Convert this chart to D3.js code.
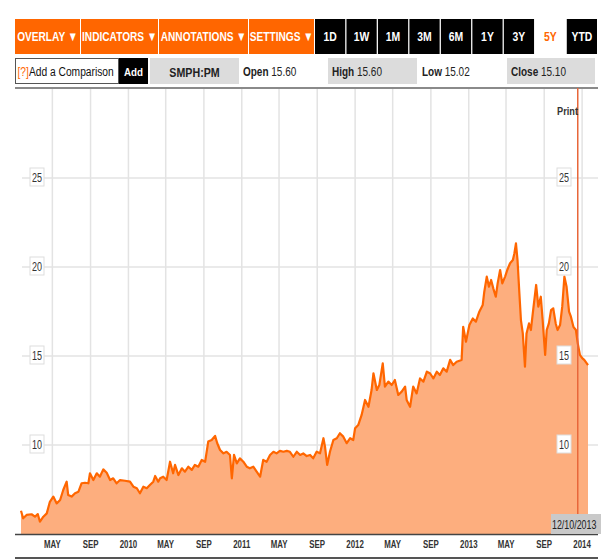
<!DOCTYPE html>
<html><head><meta charset="utf-8">
<script src="https://cdn.jsdelivr.net/npm/d3@7/dist/d3.min.js"></script>
<style>
html,body{margin:0;padding:0;background:#fff;}
svg{display:block;}
text{font-family:'Liberation Sans',Arial,sans-serif;}
</style></head>
<body><svg id="chart" width="601" height="560"></svg>
<script>
// ---------- DATA ----------
const dates = ["2009-01-20","2009-01-27","2009-02-07","2009-02-23","2009-03-06","2009-03-15","2009-03-22","2009-04-02","2009-04-13","2009-04-23",
"2009-05-04","2009-05-15","2009-05-26","2009-06-05","2009-06-16","2009-06-21","2009-07-02","2009-07-13","2009-07-24","2009-08-03",
"2009-08-14","2009-08-25","2009-08-30","2009-09-10","2009-09-21","2009-10-01","2009-10-12","2009-10-23","2009-11-03","2009-11-13",
"2009-11-24","2009-12-05","2009-12-21","2010-01-06","2010-01-17","2010-01-28","2010-02-07","2010-02-18","2010-03-01","2010-03-11",
"2010-03-22","2010-03-28","2010-04-07","2010-04-13","2010-04-23","2010-05-04","2010-05-15","2010-05-25","2010-05-31","2010-06-11",
"2010-06-22","2010-07-02","2010-07-13","2010-07-24","2010-08-03","2010-08-14","2010-08-25","2010-09-05","2010-09-15","2010-09-26",
"2010-10-07","2010-10-14","2010-10-23","2010-11-03","2010-11-13","2010-11-24","2010-11-30","2010-12-07","2010-12-16","2010-12-26",
"2011-01-06","2011-01-17","2011-01-27","2011-02-07","2011-02-18","2011-03-01","2011-03-11","2011-03-22","2011-04-02","2011-04-13",
"2011-04-23","2011-05-04","2011-05-15","2011-05-26","2011-06-05","2011-06-16","2011-06-27","2011-07-08","2011-07-18","2011-07-29",
"2011-08-09","2011-08-19","2011-08-30","2011-09-10","2011-09-21","2011-09-26","2011-10-03","2011-10-12","2011-10-23","2011-11-03",
"2011-11-13","2011-11-24","2011-12-05","2011-12-16","2011-12-26","2012-01-01","2012-01-11","2012-01-22","2012-02-02","2012-02-13",
"2012-02-23","2012-02-29","2012-03-11","2012-03-19","2012-03-30","2012-04-06","2012-04-17","2012-04-28","2012-05-08","2012-05-19",
"2012-05-30","2012-06-10","2012-06-15","2012-06-26","2012-07-06","2012-07-17","2012-07-28","2012-08-08","2012-08-19","2012-08-29",
"2012-09-09","2012-09-20","2012-09-30","2012-10-11","2012-10-22","2012-11-02","2012-11-12","2012-11-23","2012-12-09","2012-12-14",
"2012-12-23","2013-01-03","2013-01-14","2013-01-24","2013-02-04","2013-02-15","2013-02-20","2013-02-28","2013-03-07","2013-03-14",
"2013-03-21","2013-03-29","2013-04-04","2013-04-12","2013-04-19","2013-04-28","2013-05-05","2013-05-14","2013-05-23","2013-05-28",
"2013-06-02","2013-06-07","2013-06-13","2013-06-18","2013-06-24","2013-07-01","2013-07-06","2013-07-14","2013-07-20","2013-07-28",
"2013-08-06","2013-08-13","2013-08-21","2013-08-27","2013-09-04","2013-09-09","2013-09-16","2013-09-23","2013-09-30","2013-10-08",
"2013-10-14","2013-10-22","2013-10-29","2013-11-05","2013-11-12","2013-11-20","2013-11-26","2013-12-04","2013-12-12","2013-12-18",
"2013-12-25","2014-01-02","2014-01-08","2014-01-16","2014-01-20"];
const prices = [6.31,5.88,6.07,6.11,5.97,6.12,5.69,5.97,6.16,6.81,
7.10,6.72,6.91,7.47,7.94,7.19,7.10,7.29,7.38,7.85,
7.88,7.85,8.41,8.03,8.41,8.22,8.63,8.44,8.03,8.13,
7.85,8.03,7.99,7.94,7.66,7.57,7.29,7.66,7.57,7.75,
7.94,8.26,7.94,8.13,8.22,8.03,9.06,8.41,8.88,8.31,
8.69,8.50,8.78,8.60,8.88,8.78,9.16,9.06,10.19,10.28,
10.51,10.10,9.72,9.53,9.62,9.44,8.13,9.44,8.97,9.25,
9.06,8.78,8.69,8.78,8.50,8.22,9.16,9.06,9.44,9.62,
9.53,9.67,9.62,9.67,9.62,9.34,9.62,9.44,9.53,9.38,
9.44,9.25,9.62,9.53,10.38,9.91,8.88,9.62,10.28,10.38,
10.66,10.47,10.10,10.38,10.28,10.94,11.12,11.69,12.53,12.15,
13.09,14.03,13.09,13.37,14.59,13.28,13.56,13.37,13.65,12.81,
13.00,13.28,12.53,12.15,13.28,12.90,13.74,13.56,14.12,14.03,
13.74,14.12,13.93,14.31,14.12,14.78,14.49,14.68,14.78,16.64,
15.80,16.74,17.11,16.93,17.49,17.87,18.61,19.46,18.89,19.27,
18.80,18.33,19.08,19.83,19.08,19.46,19.83,20.21,20.39,20.77,
21.33,20.39,18.52,17.02,16.27,14.40,16.27,16.83,16.46,17.68,
18.99,17.77,18.33,17.02,15.06,16.46,16.83,17.58,17.68,16.83,
16.46,16.74,17.77,19.46,18.89,17.49,17.21,16.64,16.46,15.71,
15.06,14.87,14.78,14.59,14.49];
const yTicks = [10, 15, 20, 25];
const menuLabels = ["OVERLAY \u25BC","INDICATORS \u25BC","ANNOTATIONS \u25BC","SETTINGS \u25BC"];
const rangeLabels = ["1D","1W","1M","3M","6M","1Y","3Y","5Y","YTD"];
const activeRange = "5Y";
const symbol = "SMPH:PM";
const quoteLabels = ["Open","High","Low","Close"];
const quoteValues = ["15.60","15.60","15.02","15.10"];
const cursorDate = "2013-12-18";
const cursorLabel = "12/10/2013";
const domainDates = ["2009-01-20","2014-01-20"];

// ---------- LAYOUT ----------
const svg = d3.select("#chart");
const parse = d3.timeParse("%Y-%m-%d");
const data = dates.map((d,i)=>({date:parse(d), v:prices[i]}));
const plot = {left:21, right:588, top:89, bottom:534};
const x = d3.scaleTime().domain(domainDates.map(parse)).range([plot.left, plot.right]);
const y = d3.scaleLinear().domain([5, 30]).range([plot.bottom, plot.top]);

// condensed text helper (emulates a narrow face)
function nt(parent, tx, ty, size, weight, fill, anchor, sx){
  const g = parent.append("g").attr("transform",`translate(${tx},${ty}) scale(${sx},1)`);
  return g.append("text").attr("x",0).attr("y",0).attr("font-size",size).attr("font-weight",weight)
    .attr("fill",fill).attr("text-anchor",anchor);
}

// header menu (orange)
const menuW = [65,77,89,65];
let mx = 15;
menuLabels.forEach((lab,i)=>{
  svg.append("rect").attr("x",mx).attr("y",19).attr("width",menuW[i]).attr("height",35).attr("fill","#ff6600");
  nt(svg, mx+menuW[i]/2, 41, 13, "bold", "#fff", "middle", 0.78).text(lab);
  mx += menuW[i]+1;
});
const rx = d3.scaleBand().domain(rangeLabels).range([315,597]).paddingInner(0.04);
rangeLabels.forEach(lab=>{
  const on = lab===activeRange;
  if(!on) svg.append("rect").attr("x",rx(lab)).attr("y",19).attr("width",rx.bandwidth()).attr("height",35).attr("fill","#000");
  nt(svg, rx(lab)+rx.bandwidth()/2, 41, 13, "bold", on?"#ff6600":"#fff", "middle", 0.8).text(lab);
});

// second row
svg.append("rect").attr("x",15.5).attr("y",58.5).attr("width",103).attr("height",25).attr("fill","#fff").attr("stroke","#555");
const cmp = nt(svg, 17.5, 76, 12.5, "normal", "#111", "start", 0.82);
cmp.append("tspan").attr("fill","#ff6600").text("[?]");
cmp.append("tspan").text("Add a Comparison");
svg.append("rect").attr("x",119).attr("y",58).attr("width",29).attr("height",26).attr("fill","#000");
nt(svg, 133.5, 75.5, 11.5, "bold", "#fff", "middle", 0.85).text("Add");
svg.append("rect").attr("x",150).attr("y",58).attr("width",89).attr("height",26).attr("fill","#dcdcdc");
nt(svg, 194.5, 76.5, 13, "bold", "#222", "middle", 0.82).text(symbol);
const qPos = [{x:243,box:null},{x:332,box:[328,89]},{x:422,box:null},{x:511,box:[507,88]}];
quoteLabels.forEach((lab,i)=>{
  const p = qPos[i];
  if(p.box) svg.append("rect").attr("x",p.box[0]).attr("y",58).attr("width",p.box[1]).attr("height",26).attr("fill","#dcdcdc");
  const t = nt(svg, p.x, 76, 12.5, "normal", "#222", "start", 0.8);
  t.append("tspan").attr("font-weight","bold").text(lab+" ");
  t.append("tspan").text(quoteValues[i]);
});

// gridlines
const xTicks = x.ticks(d3.timeMonth.every(4));
svg.append("g").selectAll("line").data(xTicks).join("line")
  .attr("x1",d=>x(d)).attr("x2",d=>x(d)).attr("y1",plot.top).attr("y2",plot.bottom)
  .attr("stroke","#e3e3e3").attr("stroke-width",1.5);
svg.append("g").selectAll("line").data(yTicks).join("line")
  .attr("x1",22).attr("x2",598).attr("y1",d=>y(d)).attr("y2",d=>y(d))
  .attr("stroke","#e3e3e3").attr("stroke-width",1.5);

// area + line
const area = d3.area().x(d=>x(d.date)).y0(y(5)).y1(d=>y(d.v));
const line = d3.line().x(d=>x(d.date)).y(d=>y(d.v));
svg.append("path").datum(data).attr("d",area).attr("fill","#fdae7e");
svg.append("path").datum(data).attr("d",line).attr("fill","none").attr("stroke","#ff6600").attr("stroke-width",2.2).attr("stroke-linejoin","round");

// y labels both sides
[37,564].forEach(cx=>{
  yTicks.forEach(d=>{
    svg.append("rect").attr("x",cx-7).attr("y",y(d)-10).attr("width",14).attr("height",18).attr("fill","#fff").attr("stroke","#ddd");
    nt(svg, cx, y(d)+4, 12, "normal", "#333", "middle", 0.75).text(d);
  });
});

// frame lines
svg.append("line").attr("x1",15).attr("x2",598).attr("y1",88).attr("y2",88).attr("stroke","#8a8a8a").attr("stroke-width",2);
svg.append("line").attr("x1",15).attr("x2",598).attr("y1",534.5).attr("y2",534.5).attr("stroke","#444").attr("stroke-width",1.5);
svg.append("line").attr("x1",15).attr("x2",598).attr("y1",558).attr("y2",558).attr("stroke","#555").attr("stroke-width",2);

// x axis labels
const fmt = d=> d.getMonth()===0 ? d3.timeFormat("%Y")(d) : d3.timeFormat("%b")(d).toUpperCase();
xTicks.forEach(d=>{
  nt(svg, x(d), 548, 10.5, "bold", "#333", "middle", 0.75).text(fmt(d));
});

// cursor line
const cxl = x(parse(cursorDate));
svg.append("line").attr("x1",cxl).attr("x2",cxl).attr("y1",88).attr("y2",534).attr("stroke","#e8673a").attr("stroke-width",1.5);
svg.append("rect").attr("x",551).attr("y",514).attr("width",52).attr("height",20).attr("fill","#c9c9c9");
nt(svg, 552, 528.5, 12, "normal", "#222", "start", 0.74).text(cursorLabel);

// print
nt(svg, 557, 115, 11.5, "bold", "#333", "start", 0.8).text("Print");
</script></body></html>
